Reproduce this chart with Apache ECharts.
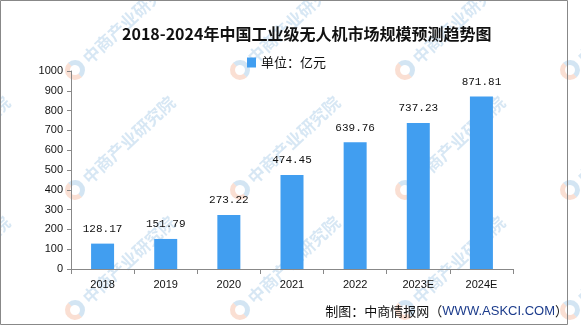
<!DOCTYPE html>
<html><head><meta charset="utf-8">
<script src="https://cdn.jsdelivr.net/npm/echarts@6/dist/echarts.min.js"></script>
<style>html,body{margin:0;padding:0;background:#fff}#c{width:581px;height:327px}</style>
</head><body><div id="c"></div>
<script>
var categories = ['2018','2019','2020','2021','2022','2023E','2024E'];
var values = [128.17,151.79,273.22,474.45,639.76,737.23,871.81];
var yTicks = [0,100,200,300,400,500,600,700,800,900,1000];
var seriesName = '单位：亿元';
var titleText = '2018-2024年中国工业级无人机市场规模预测趋势图';

var chart = echarts.init(document.getElementById('c'), null, {renderer:'canvas'});

var wm = [];
var xs = [-90, 75, 240, 405, 570];
var ys = [70, 190, 310];
xs.forEach(function(x){ ys.forEach(function(y){
  wm.push({type:'group', x:x, y:y, rotation:0.75, z:100, silent:true, children:[
    {type:'sector', shape:{cx:0,cy:0,r:10,r0:5,startAngle:Math.PI*0.5,endAngle:Math.PI*1.5}, style:{fill:'rgba(240,150,110,0.3)'}},
    {type:'sector', shape:{cx:0,cy:0,r:10,r0:5,startAngle:-Math.PI*0.5,endAngle:Math.PI*0.5}, style:{fill:'rgba(110,170,215,0.3)'}},
    {type:'text', x:14, y:0, style:{text:'中商产业研究院', fill:'rgba(110,170,215,0.28)', font:'bold 17px "Noto Sans CJK SC"', textVerticalAlign:'middle'}}
  ]});
});});

chart.setOption({
  backgroundColor:'#fff',
  animation:false,
  title:{text:titleText, left:117, top:21, textStyle:{fontSize:16, fontWeight:'bold', color:'#111', fontFamily:'"Noto Sans CJK SC"'}},
  legend:{data:[seriesName], left:242, top:51, icon:'rect', itemWidth:9, itemHeight:10, textStyle:{fontSize:13, color:'#111', fontFamily:'"Noto Sans CJK SC"'}},
  grid:{left:71, right:68, top:71, bottom:58},
  xAxis:{type:'category', data:categories,
    axisLine:{lineStyle:{color:'#888'}},
    axisTick:{show:true, length:5, lineStyle:{color:'#888'}},
    axisLabel:{color:'#111', fontSize:11, margin:10, fontFamily:'"Liberation Sans"'}},
  yAxis:{type:'value', min:0, max:1000, interval:100,
    axisLine:{show:true, lineStyle:{color:'#888'}},
    axisTick:{show:true, length:4, lineStyle:{color:'#888'}},
    splitLine:{show:false},
    axisLabel:{color:'#111', fontSize:11, margin:8, fontFamily:'"Liberation Sans"', formatter:function(v){return String(v);}}},
  series:[{name:seriesName, type:'bar', data:values, barWidth:23,
    itemStyle:{color:'#419ef0'},
    label:{show:true, position:'top', distance:9, color:'#111', fontSize:11, fontFamily:'"Liberation Mono"',
      formatter:function(p){return p.value.toFixed(2);}}}],
  graphic:[
    {type:'rect', shape:{x:0.5,y:0.5,width:567,height:324}, style:{fill:'none', stroke:'#888', lineWidth:1}, z:50}
  ].concat(wm).concat([
    {type:'text', right:13, top:305, z:120, style:{rich:{a:{fill:'#111', font:'13px "Noto Sans CJK SC"'}, b:{fill:'#1c3c8c', font:'13px "Liberation Sans"'}}, text:'{a|制图：中商情报网（}{b|WWW.ASKCI.COM}{a|）}'}}
  ])
});
</script></body></html>
